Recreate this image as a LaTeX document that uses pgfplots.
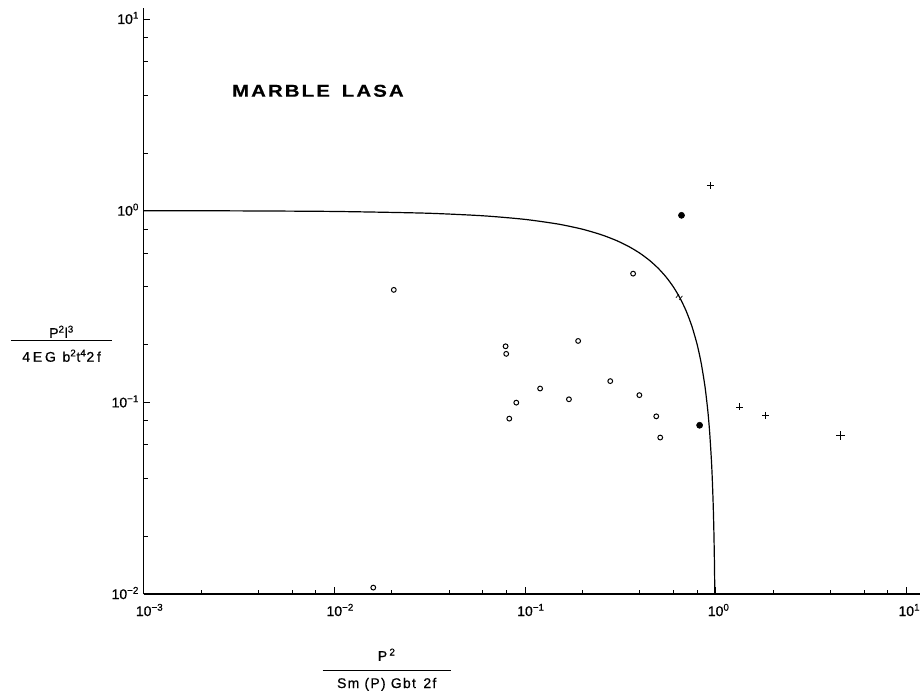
\documentclass[border=0pt]{standalone}
\usepackage{pgfplots}
\pgfplotsset{compat=1.18}
\usepackage{fontspec}
\setmainfont{Liberation Sans}
\newfontfamily\medfont[FakeBold=0.6]{Liberation Sans}
\newfontfamily\titlefont[FakeStretch=1.2, LetterSpace=12, FakeBold=0.4]{Liberation Sans Bold}

% two short strokes across the curve
\pgfdeclareplotmark{dslash}{%
  \pgfpathmoveto{\pgfqpoint{-3.0pt}{0.2pt}}\pgfpathlineto{\pgfqpoint{-0.8pt}{3.0pt}}%
  \pgfpathmoveto{\pgfqpoint{-0.6pt}{-1.4pt}}\pgfpathlineto{\pgfqpoint{1.8pt}{1.6pt}}%
  \pgfusepathqstroke}

\newcommand{\sq}[1]{\textsuperscript{#1}}

\begin{document}
\begin{tikzpicture}[x=1pt,y=1pt]
\useasboundingbox (-107.8,-75) rectangle (585.2,445.5);
\begin{axis}[
  at={(0,0)}, anchor=south west,
  scale only axis, width=582.2pt, height=439.5pt,
  xmode=log, ymode=log,
  xmin=1e-3, xmax=11.8, ymin=1e-2, ymax=11.4,
  axis x line*=bottom, axis y line*=left,
  axis line style={-, line width=0.9pt},
  tick align=inside,
  major tick length=5pt, minor tick length=3pt,
  every tick/.style={black, line width=0.6pt},
  xtick={1e-3,1e-2,1e-1,1,10},
  xticklabels={10\rlap{\sq{−3}},10\rlap{\sq{−2}},10\rlap{\sq{−1}},10\rlap{\sq{0}},10\rlap{\sq{1}}},
  minor xtick={0.002,0.004,0.006,0.008,0.02,0.04,0.06,0.08,0.2,0.4,0.6,0.8,2,4,6,8},
  ytick={1e-2,1e-1,1,10},
  yticklabels={10\sq{−2},10\sq{−1},10\sq{0},10\sq{1}},
  minor ytick={0.02,0.04,0.06,0.08,0.2,0.4,0.6,0.8,2,4,6,8},
  ticklabel style={font=\medfont\fontsize{10.5}{12}\selectfont, inner sep=0pt},
  xticklabel style={anchor=base, yshift=-16.5pt},
  yticklabel style={anchor=base east, xshift=-3.3pt, yshift=-3.8pt},
  clip=false,
]
% limiting curve
\addplot[black, line width=0.9pt, smooth, tension=0.4] coordinates {
  (0.001,0.999) (0.003,0.997) (0.01,0.99) (0.03,0.97) (0.06,0.94)
  (0.1,0.9) (0.15,0.85) (0.2,0.8) (0.25,0.75) (0.3,0.7) (0.35,0.65)
  (0.4,0.6) (0.45,0.55) (0.5,0.5) (0.55,0.45) (0.6,0.4) (0.65,0.35)
  (0.7,0.3) (0.75,0.25) (0.8,0.2) (0.84,0.16) (0.88,0.12) (0.91,0.09)
  (0.93,0.07) (0.95,0.05) (0.96,0.04) (0.97,0.03) (0.975,0.025)
  (0.98,0.02) (0.985,0.015) (0.99,0.01)
};
\addplot[only marks, mark=dslash, mark options={line width=0.5pt}] coordinates {(0.65,0.35)};
% open circles
\addplot[only marks, mark=o, mark size=1.8pt, mark options={line width=0.75pt}] coordinates {
  (0.0205,0.386) (0.369,0.469) (0.0791,0.196) (0.0797,0.179)
  (0.190,0.209) (0.120,0.118) (0.090,0.0996) (0.0827,0.0822)
  (0.170,0.1037) (0.280,0.129) (0.398,0.109) (0.488,0.0845)
  (0.512,0.0655) (0.0160,0.0108)
};
% filled circles
\addplot[only marks, mark=*, mark size=2.3pt] coordinates {
  (0.662,0.945) (0.824,0.0759)
};
% crosses
\addplot[only marks, mark=+, mark size=2.6pt, mark options={line width=0.65pt}] coordinates {
  (0.938,1.355) (1.337,0.0946) (1.826,0.0855)
};
\addplot[only marks, mark=+, mark size=3.2pt, mark options={line width=0.8pt}] coordinates {
  (4.53,0.0673)
};
% title
\node[anchor=west, inner sep=0pt, font=\titlefont\fontsize{12.8}{14}\selectfont]
  at (rel axis cs:0.1134,0.8587) {MARBLE\hspace{9pt}LASA};
% axis quantities
\node[anchor=base, font=\medfont\fontsize{10.5}{12}\selectfont] at (rel axis cs:-0.1058,0.3964) {%
  \begin{tabular}[b]{@{}c@{}}
  {\addfontfeatures{LetterSpace=10}P\sq{2}l\sq{3}}\\[-9.8pt]
  \rule{76pt}{0.7pt}\\[3pt]
  {\addfontfeatures{LetterSpace=20}4EG b\sq{2}t\sq{4}2f}
  \end{tabular}};
\node[anchor=base, font=\medfont\fontsize{10.5}{12}\selectfont] at (rel axis cs:0.313,-0.1604) {%
  \begin{tabular}[b]{@{}c@{}}
  {P\,\sq{2}}\\[-4.3pt]
  \rule{96pt}{0.7pt}\\[0.7pt]
  {\addfontfeatures{LetterSpace=9}Sm (P) Gbt\, 2f}
  \end{tabular}};
\end{axis}
\end{tikzpicture}
\end{document}
